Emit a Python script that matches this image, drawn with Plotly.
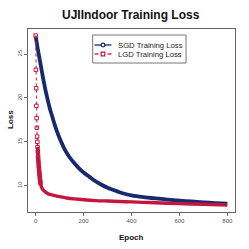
import plotly.graph_objects as go

# ---- data ----
sgd_epochs = [0, 10, 20, 30, 40, 50, 60, 70, 80, 90, 100, 120, 140, 160, 180, 200,
              225, 250, 275, 300, 325, 350, 375, 400, 450, 500, 550, 600, 650, 700, 750, 800]
sgd_loss = [27.0, 25.4, 23.9, 22.4, 21.0, 19.8, 18.7, 17.8, 16.9, 16.1, 15.4, 14.2, 13.3,
            12.6, 12.0, 11.5, 11.0, 10.5, 10.1, 9.75, 9.5, 9.25, 9.05, 8.9, 8.7, 8.55,
            8.42, 8.3, 8.2, 8.1, 8.02, 7.95]

lgd_epochs = [0, 1, 2, 3, 4, 5, 6, 7, 8, 9, 10, 11, 12, 13, 14, 15, 16, 17, 18, 19, 20,
              25, 30, 40, 50, 60, 80, 100, 130, 160, 200, 250, 300, 350, 400, 450, 500,
              600, 700, 800]
lgd_loss = [27.1, 23.2, 21.1, 19.1, 17.7, 16.6, 15.6, 15.0, 14.4, 13.9, 13.4, 13.0, 12.6,
            12.2, 11.9, 11.6, 11.3, 11.0, 10.75, 10.5, 10.3, 9.8, 9.55, 9.3, 9.12, 9.0,
            8.86, 8.75, 8.6, 8.5, 8.4, 8.3, 8.25, 8.2, 8.15, 8.1, 8.05, 7.95, 7.88, 7.8]

x_ticks = [0, 200, 400, 600, 800]
y_ticks = [10, 15, 20, 25]

title_text = "UJIIndoor Training Loss"
x_title = "Epoch"
y_title = "Loss"
sgd_name = "SGD Training Loss"
lgd_name = "LGD Training Loss"

NAVY = "#172a6c"
CRIMSON = "#c3173f"
FONT = "Liberation Sans, Arial, sans-serif"

W, H = 249, 249
ML, MR, MT, MB = 28, 14, 29, 37
PW, PH = W - ML - MR, H - MT - MB


def px_x(x):
    return (x - ML) / PW


def px_y(y):
    return (H - MB - y) / PH


fig = go.Figure()

# SGD: dense markers form a thick line
fig.add_trace(go.Scatter(x=sgd_epochs, y=sgd_loss, mode="lines",
                         line=dict(color=NAVY, width=3.8, shape="spline", smoothing=0.6),
                         showlegend=False, hoverinfo="skip"))

# LGD: thick part where markers merge
start = lgd_epochs.index(8)
fig.add_trace(go.Scatter(x=lgd_epochs[start:], y=lgd_loss[start:], mode="lines",
                         line=dict(color=CRIMSON, width=3.4, shape="spline", smoothing=0.6),
                         showlegend=False, hoverinfo="skip"))
# LGD: early part with visible markers and dashes
early_end = lgd_epochs.index(20) + 1
fig.add_trace(go.Scatter(x=lgd_epochs[:early_end], y=lgd_loss[:early_end],
                         mode="lines+markers",
                         line=dict(color=CRIMSON, width=1, dash="3px,3px"),
                         marker=dict(symbol="square-open", size=3.5, color=CRIMSON,
                                     line=dict(width=1)),
                         showlegend=False, hoverinfo="skip"))

axis_common = dict(showline=True, linecolor="#666666", linewidth=1, mirror=True,
                   showgrid=False, zeroline=False, ticks="outside", ticklen=3,
                   tickcolor="#666666", tickwidth=1,
                   tickfont=dict(family=FONT, size=6, color="#555555"))

# ---- manual legend (R style compact) ----
LX0, LX1, LY0, LY1 = 92.7, 186, 35, 63
rows = [(45, sgd_name, NAVY), (54, lgd_name, CRIMSON)]
shapes = [dict(type="rect", xref="paper", yref="paper",
               x0=px_x(LX0), x1=px_x(LX1), y0=px_y(LY1), y1=px_y(LY0),
               line=dict(color="#777777", width=1), fillcolor="white", layer="above")]
annotations = []
sym_x0, sym_x1, sym_c = 94.5, 111.5, 103
# SGD row: solid line + open circle
y1 = rows[0][0]
shapes.append(dict(type="line", xref="paper", yref="paper",
                   x0=px_x(sym_x0), x1=px_x(sym_x1), y0=px_y(y1), y1=px_y(y1),
                   line=dict(color=NAVY, width=1.3), layer="above"))
r = 1.8
shapes.append(dict(type="circle", xref="paper", yref="paper",
                   x0=px_x(sym_c - r), x1=px_x(sym_c + r), y0=px_y(y1 + r), y1=px_y(y1 - r),
                   line=dict(color=NAVY, width=1.2), fillcolor="white", layer="above"))
# LGD row: dashed line + open square
y2 = rows[1][0]
for a, b in [(sym_x0, sym_x0 + 4), (sym_x1 - 4, sym_x1)]:
    shapes.append(dict(type="line", xref="paper", yref="paper",
                       x0=px_x(a), x1=px_x(b), y0=px_y(y2), y1=px_y(y2),
                       line=dict(color=CRIMSON, width=1.3), layer="above"))
s = 1.8
shapes.append(dict(type="rect", xref="paper", yref="paper",
                   x0=px_x(sym_c - s), x1=px_x(sym_c + s), y0=px_y(y2 + s), y1=px_y(y2 - s),
                   line=dict(color=CRIMSON, width=1.2), fillcolor="white", layer="above"))
for yy, name, _c in rows:
    annotations.append(dict(text=name, x=px_x(115.7), y=px_y(yy), xref="paper", yref="paper",
                            showarrow=False, xanchor="left", yanchor="middle",
                            font=dict(family=FONT, size=7.7, color="#222222")))

annotations += [
    dict(text="<b>%s</b>" % title_text, x=px_x(131), y=px_y(15), xref="paper", yref="paper",
         showarrow=False, xanchor="center", yanchor="middle",
         font=dict(family=FONT, size=12, color="#111111")),
    dict(text="<b>%s</b>" % x_title, x=px_x(131), y=px_y(237), xref="paper", yref="paper",
         showarrow=False, xanchor="center", yanchor="middle",
         font=dict(family=FONT, size=8, color="#111111")),
    dict(text="<b>%s</b>" % y_title, x=px_x(10), y=px_y(120), xref="paper", yref="paper",
         showarrow=False, textangle=-90, xanchor="center", yanchor="middle",
         font=dict(family=FONT, size=8, color="#111111")),
]

fig.update_layout(
    width=W, height=H,
    margin=dict(l=ML, r=MR, t=MT, b=MB, pad=0),
    paper_bgcolor="white", plot_bgcolor="white",
    font=dict(family=FONT),
    showlegend=False,
    hovermode=False,
    xaxis=dict(range=[-32, 832], tickvals=x_ticks, **axis_common),
    yaxis=dict(range=[7.0, 27.85], tickvals=y_ticks, tickangle=-90, **axis_common),
    shapes=shapes,
    annotations=annotations,
)

fig.write_html("out.html", config={"displayModeBar": False, "staticPlot": True},
               post_script="document.body.style.margin='0';document.body.style.overflow='hidden';")
